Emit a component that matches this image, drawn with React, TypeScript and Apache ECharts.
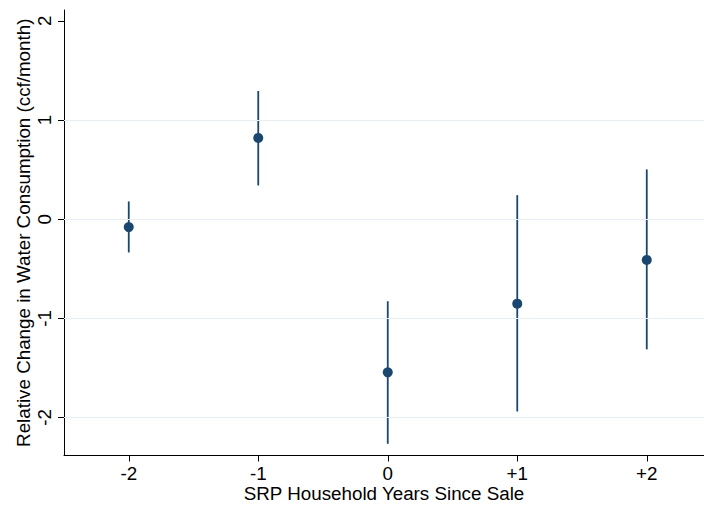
import React, { useEffect, useRef } from "react";
import * as echarts from "echarts";

const years = [-2, -1, 0, 1, 2];
const yearLabels = ["-2", "-1", "0", "+1", "+2"];
const estimates = [-0.08, 0.82, -1.545, -0.852, -0.411];
const ciLower = [-0.336, 0.34, -2.266, -1.94, -1.313];
const ciUpper = [0.179, 1.293, -0.828, 0.242, 0.502];
const yTicks = [-2, -1, 0, 1, 2];
const gridValues = [-2, -1, 0, 1];

const FONT = "'Liberation Sans', Arial, Helvetica, sans-serif";
const NAVY = "#1a476f";

export default function App() {
  const ref = useRef<HTMLDivElement>(null);
  useEffect(() => {
    if (!ref.current) return;
    const chart = echarts.init(ref.current, undefined, { renderer: "svg" });
    const ciData = years.map((x, i) => [x, ciLower[i], ciUpper[i]]);
    const ptData = years.map((x, i) => [x, estimates[i]]);
    chart.setOption({
      animation: false,
      backgroundColor: "#ffffff",
      grid: {
        left: 64,
        right: 0,
        top: 10,
        bottom: 50.5,
        containLabel: false,
        outerBoundsMode: "none",
      },
      xAxis: {
        type: "value",
        min: -2.5,
        max: 2.442,
        name: "SRP Household Years Since Sale",
        nameLocation: "middle",
        nameGap: 28,
        nameMoveOverlap: false,
        nameTextStyle: { color: "#000", fontSize: 18.8, fontFamily: FONT },
        axisLine: { show: true, onZero: false, lineStyle: { color: "#000", width: 1 } },
        axisTick: { show: true, length: 6, customValues: years, lineStyle: { color: "#000" } },
        axisLabel: {
          customValues: years,
          margin: 8,
          color: "#000",
          fontSize: 18.8,
          fontFamily: FONT,
          formatter: (v: number) => {
            const i = years.indexOf(Math.round(v));
            return i >= 0 ? yearLabels[i] : "";
          },
        },
        splitLine: { show: false },
      },
      yAxis: {
        type: "value",
        min: -2.384,
        max: 2.11,
        name: "Relative Change in Water Consumption (ccf/month)",
        nameLocation: "middle",
        nameRotate: 90,
        nameGap: 31,
        nameMoveOverlap: false,
        nameTextStyle: { color: "#000", fontSize: 18.8, fontFamily: FONT },
        axisLine: { show: true, onZero: false, lineStyle: { color: "#000", width: 1 } },
        axisTick: { show: true, length: 6, customValues: yTicks, lineStyle: { color: "#000" } },
        axisLabel: {
          customValues: yTicks,
          rotate: 90,
          margin: 10,
          color: "#000",
          fontSize: 18.8,
          fontFamily: FONT,
          formatter: (v: number) => String(Math.round(v)),
        },
        splitLine: { show: false },
      },
      series: [
        {
          type: "line",
          data: [],
          z: 1,
          silent: true,
          markLine: {
            silent: true,
            symbol: "none",
            label: { show: false },
            lineStyle: { color: "#e6eef1", width: 1.2, type: "solid" },
            data: gridValues.map((v) => ({ yAxis: v })),
          },
        },
        {
          type: "custom",
          z: 2,
          data: ciData,
          encode: { x: 0, y: [1, 2] },
          renderItem: (params: any, api: any) => {
            const x = api.value(0);
            const p1 = api.coord([x, api.value(1)]);
            const p2 = api.coord([x, api.value(2)]);
            return {
              type: "line",
              shape: { x1: p1[0], y1: p1[1], x2: p2[0], y2: p2[1] },
              style: { stroke: NAVY, lineWidth: 1.8 },
            };
          },
        },
        {
          type: "scatter",
          z: 3,
          data: ptData,
          symbol: "circle",
          symbolSize: 10,
          itemStyle: { color: NAVY, opacity: 1 },
        },
      ],
    });
    return () => chart.dispose();
  }, []);
  return (
    <div
      ref={ref}
      style={{ position: "absolute", left: 0, top: 0, width: 704, height: 506 }}
    />
  );
}
